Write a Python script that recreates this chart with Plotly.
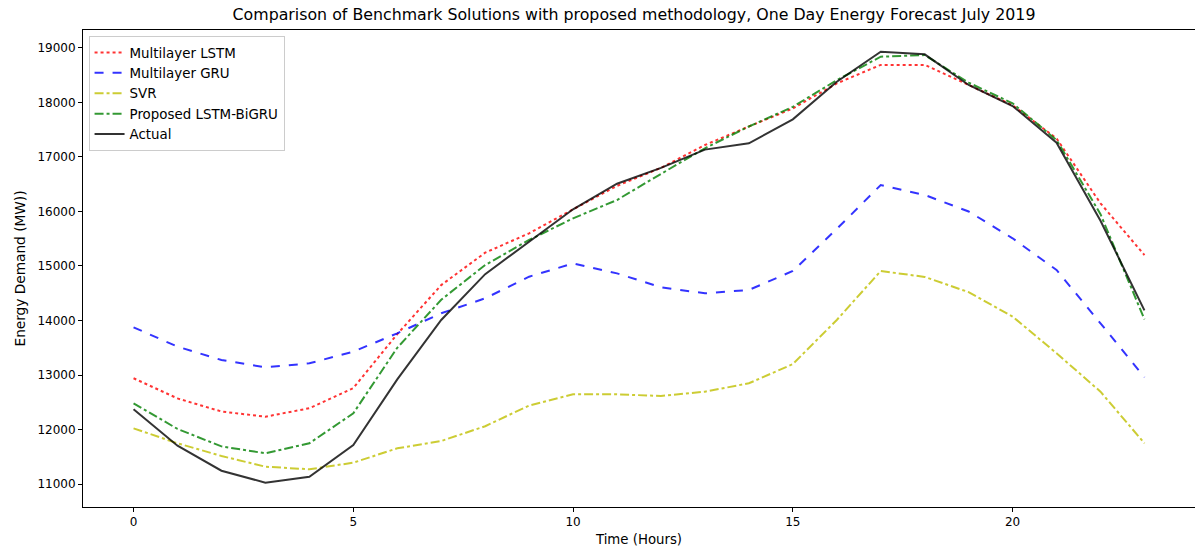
import plotly.graph_objects as go

hours = list(range(24))
lstm = [12940, 12570, 12330, 12235, 12390, 12760, 13750, 14650, 15244, 15600, 16040, 16470,
        16800, 17220, 17560, 17890, 18350, 18690, 18690, 18320, 17950, 17340, 16150, 15200]
gru = [13875, 13520, 13275, 13141, 13214, 13428, 13765, 14132, 14407, 14804, 15048, 14865,
       14609, 14499, 14560, 14908, 15680, 16486, 16303, 16000, 15508, 14927, 13948, 12958]
svr = [12021, 11747, 11514, 11318, 11270, 11391, 11655, 11789, 12060, 12440, 12645, 12645,
       12615, 12694, 12848, 13200, 14010, 14908, 14800, 14520, 14072, 13398, 12694, 11747]
proposed = [12480, 12010, 11690, 11563, 11747, 12297, 13500, 14380, 15018, 15477, 15875, 16211,
            16690, 17160, 17560, 17920, 18410, 18840, 18870, 18364, 17985, 17312, 15950, 14022]
actual = [12370, 11703, 11244, 11024, 11134, 11716, 12920, 14010, 14850, 15446, 16040, 16510,
          16800, 17135, 17250, 17690, 18381, 18932, 18884, 18321, 17936, 17263, 15830, 14185]
y_ticks = list(range(11000, 19001, 1000))
x_ticks = [0, 5, 10, 15, 20]

series = [
    ("Multilayer LSTM", lstm, "rgba(255,0,0,0.8)", "dot"),
    ("Multilayer GRU", gru, "rgba(0,0,255,0.8)", "dash"),
    ("SVR", svr, "rgba(191,191,0,0.8)", "dashdot"),
    ("Proposed LSTM-BiGRU", proposed, "rgba(0,128,0,0.8)", "dashdot"),
    ("Actual", actual, "rgba(0,0,0,0.8)", "solid"),
]

fig = go.Figure()
for name, vals, color, dash in series:
    fig.add_trace(go.Scatter(x=hours, y=vals, mode="lines", name=name,
                             line=dict(color=color, width=2, dash=dash)))

fig.update_layout(
    width=1195, height=553,
    margin=dict(l=83, r=0, t=30, b=46),
    paper_bgcolor="white", plot_bgcolor="white",
    font=dict(family="DejaVu Sans", size=12, color="black"),
    title=dict(text="Comparison of Benchmark Solutions with proposed methodology, One Day Energy Forecast July 2019",
               x=0.4955, xref="paper", xanchor="center", y=1, yref="container", yanchor="top",
               pad=dict(t=9), font=dict(size=15.8)),
    showlegend=True,
    legend=dict(x=0.005, y=0.987, xanchor="left", yanchor="top",
                bgcolor="rgba(255,255,255,0.8)", bordercolor="#cccccc", borderwidth=1,
                font=dict(size=13.4), tracegroupgap=0),
)
fig.update_xaxes(range=[-1.15, 24.15], tickvals=x_ticks, showline=True, mirror=True,
                 linecolor="black", linewidth=1, ticks="outside", ticklen=4, tickcolor="black",
                 showgrid=False, zeroline=False,
                 title=dict(text="Time (Hours)", standoff=6, font=dict(size=13.3)))
fig.update_yaxes(range=[10578, 19330], tickvals=y_ticks, ticktext=[str(v) for v in y_ticks],
                 showline=True, mirror=True, linecolor="black", linewidth=1, ticks="outside",
                 ticklen=4, tickcolor="black", showgrid=False, zeroline=False,
                 title=dict(text="Energy Demand (MW))", standoff=8, font=dict(size=13.7)))

fig.write_html("out.html")
